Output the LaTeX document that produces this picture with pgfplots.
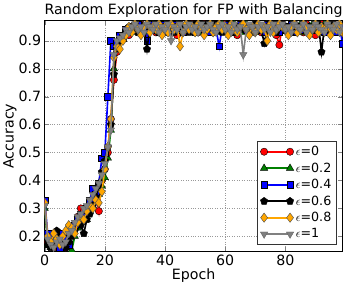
\documentclass[border=0pt]{standalone}
\usepackage{fontspec}
\setmainfont{DejaVu Sans}
\usepackage{pgfplots}
\usepackage{pgfplotstable}
\pgfplotsset{compat=1.18}
\definecolor{mgreen}{rgb}{0,0.5,0}
\definecolor{morange}{rgb}{1,0.65,0}
\definecolor{mgray}{rgb}{0.5,0.5,0.5}
\pgfplotstableread[row sep=\\]{
y\\
0.32\\0.18\\0.17\\0.16\\0.19\\0.18\\0.17\\0.16\\0.20\\0.22\\
0.24\\0.27\\0.30\\0.29\\0.28\\0.30\\0.33\\0.35\\0.29\\0.40\\
0.44\\0.50\\0.62\\0.76\\0.86\\0.90\\0.91\\0.93\\0.92\\0.94\\
0.95\\0.93\\0.96\\0.94\\0.92\\0.95\\0.96\\0.93\\0.94\\0.95\\
0.93\\0.96\\0.94\\0.95\\0.92\\0.96\\0.93\\0.94\\0.95\\0.96\\
0.94\\0.93\\0.95\\0.96\\0.94\\0.95\\0.93\\0.96\\0.94\\0.95\\
0.96\\0.94\\0.93\\0.95\\0.92\\0.96\\0.94\\0.95\\0.93\\0.94\\
0.96\\0.95\\0.93\\0.94\\0.96\\0.95\\0.94\\0.92\\0.885\\0.96\\
0.94\\0.93\\0.95\\0.96\\0.94\\0.95\\0.93\\0.96\\0.94\\0.95\\
0.92\\0.94\\0.96\\0.93\\0.95\\0.94\\0.96\\0.95\\0.93\\0.94\\
}\tR
\pgfplotstableread[row sep=\\]{
y\\
0.30\\0.17\\0.16\\0.18\\0.17\\0.16\\0.19\\0.18\\0.16\\0.15\\
0.20\\0.23\\0.25\\0.27\\0.26\\0.29\\0.31\\0.33\\0.35\\0.38\\
0.41\\0.48\\0.58\\0.80\\0.88\\0.91\\0.92\\0.93\\0.94\\0.93\\
0.95\\0.94\\0.96\\0.93\\0.95\\0.94\\0.96\\0.95\\0.93\\0.94\\
0.96\\0.94\\0.95\\0.93\\0.96\\0.94\\0.95\\0.96\\0.93\\0.95\\
0.94\\0.96\\0.93\\0.95\\0.94\\0.96\\0.95\\0.93\\0.94\\0.96\\
0.95\\0.93\\0.94\\0.96\\0.95\\0.94\\0.93\\0.96\\0.95\\0.94\\
0.93\\0.96\\0.94\\0.95\\0.96\\0.93\\0.94\\0.95\\0.96\\0.94\\
0.95\\0.93\\0.96\\0.94\\0.95\\0.96\\0.93\\0.94\\0.95\\0.96\\
0.94\\0.95\\0.93\\0.96\\0.94\\0.95\\0.96\\0.93\\0.95\\0.94\\
}\tG
\pgfplotstableread[row sep=\\]{
y\\
0.33\\0.21\\0.20\\0.18\\0.17\\0.16\\0.21\\0.19\\0.17\\0.22\\
0.24\\0.26\\0.28\\0.27\\0.30\\0.33\\0.37\\0.35\\0.39\\0.48\\
0.50\\0.70\\0.90\\0.88\\0.89\\0.92\\0.91\\0.94\\0.93\\0.95\\
0.94\\0.96\\0.93\\0.95\\0.90\\0.96\\0.94\\0.95\\0.93\\0.96\\
0.95\\0.93\\0.94\\0.96\\0.95\\0.94\\0.93\\0.95\\0.96\\0.94\\
0.93\\0.95\\0.96\\0.94\\0.95\\0.93\\0.96\\0.94\\0.88\\0.95\\
0.94\\0.96\\0.95\\0.93\\0.94\\0.96\\0.95\\0.94\\0.93\\0.95\\
0.96\\0.94\\0.95\\0.93\\0.96\\0.95\\0.94\\0.96\\0.93\\0.95\\
0.94\\0.95\\0.96\\0.93\\0.95\\0.94\\0.96\\0.95\\0.93\\0.94\\
0.96\\0.95\\0.94\\0.93\\0.95\\0.96\\0.94\\0.93\\0.95\\0.89\\
}\tB
\pgfplotstableread[row sep=\\]{
y\\
0.19\\0.17\\0.16\\0.18\\0.22\\0.19\\0.17\\0.16\\0.18\\0.20\\
0.22\\0.25\\0.24\\0.21\\0.26\\0.28\\0.31\\0.34\\0.38\\0.43\\
0.47\\0.52\\0.60\\0.78\\0.87\\0.90\\0.92\\0.93\\0.95\\0.94\\
0.96\\0.93\\0.94\\0.95\\0.87\\0.95\\0.94\\0.96\\0.93\\0.95\\
0.94\\0.96\\0.95\\0.93\\0.94\\0.96\\0.95\\0.94\\0.93\\0.95\\
0.96\\0.94\\0.95\\0.93\\0.96\\0.94\\0.95\\0.96\\0.94\\0.93\\
0.95\\0.94\\0.96\\0.93\\0.95\\0.94\\0.96\\0.95\\0.94\\0.93\\
0.96\\0.95\\0.94\\0.89\\0.95\\0.96\\0.94\\0.93\\0.95\\0.96\\
0.94\\0.95\\0.93\\0.96\\0.94\\0.95\\0.96\\0.94\\0.93\\0.95\\
0.94\\0.96\\0.86\\0.95\\0.94\\0.93\\0.96\\0.95\\0.94\\0.93\\
}\tK
\pgfplotstableread[row sep=\\]{
y\\
0.32\\0.20\\0.18\\0.21\\0.19\\0.17\\0.20\\0.22\\0.24\\0.23\\
0.21\\0.25\\0.27\\0.26\\0.29\\0.31\\0.30\\0.33\\0.32\\0.36\\
0.44\\0.52\\0.62\\0.84\\0.88\\0.87\\0.90\\0.92\\0.95\\0.93\\
0.96\\0.94\\0.92\\0.95\\0.96\\0.93\\0.95\\0.94\\0.96\\0.92\\
0.95\\0.93\\0.96\\0.94\\0.95\\0.88\\0.93\\0.96\\0.94\\0.95\\
0.93\\0.96\\0.95\\0.92\\0.94\\0.96\\0.93\\0.95\\0.96\\0.94\\
0.95\\0.92\\0.96\\0.94\\0.93\\0.95\\0.96\\0.94\\0.92\\0.95\\
0.93\\0.96\\0.94\\0.95\\0.90\\0.96\\0.93\\0.94\\0.96\\0.95\\
0.94\\0.92\\0.95\\0.96\\0.93\\0.94\\0.96\\0.95\\0.92\\0.94\\
0.96\\0.93\\0.95\\0.94\\0.96\\0.92\\0.95\\0.94\\0.96\\0.93\\
}\tO
\pgfplotstableread[row sep=\\]{
y\\
0.31\\0.19\\0.17\\0.16\\0.18\\0.19\\0.17\\0.18\\0.21\\0.22\\
0.25\\0.27\\0.28\\0.30\\0.31\\0.33\\0.35\\0.37\\0.39\\0.42\\
0.46\\0.52\\0.58\\0.85\\0.90\\0.91\\0.92\\0.94\\0.93\\0.95\\
0.96\\0.94\\0.95\\0.93\\0.96\\0.95\\0.94\\0.96\\0.93\\0.95\\
0.94\\0.96\\0.90\\0.95\\0.94\\0.96\\0.93\\0.95\\0.96\\0.94\\
0.95\\0.93\\0.96\\0.94\\0.95\\0.96\\0.94\\0.93\\0.95\\0.96\\
0.94\\0.95\\0.93\\0.96\\0.94\\0.95\\0.85\\0.94\\0.96\\0.95\\
0.93\\0.95\\0.96\\0.94\\0.95\\0.93\\0.96\\0.94\\0.95\\0.96\\
0.94\\0.95\\0.93\\0.96\\0.95\\0.94\\0.96\\0.93\\0.95\\0.94\\
0.96\\0.95\\0.94\\0.93\\0.96\\0.95\\0.94\\0.96\\0.93\\0.95\\
}\tY
\begin{document}
\begin{tikzpicture}
\begin{axis}[
  scale only axis, width=294pt, height=228pt,
  xmin=0, xmax=99, ymin=0.145, ymax=0.972,
  xtick={0,20,40,60,80}, ytick={0.2,0.3,0.4,0.5,0.6,0.7,0.8,0.9},
  yticklabel style={/pgf/number format/.cd, fixed, precision=1, fixed zerofill},
  /pgf/number format/assume math mode=true,
  tick label style={font=\fontsize{14}{16}\selectfont},
  label style={font=\fontsize{14}{16}\selectfont},
  title style={font=\fontsize{14}{16}\selectfont, yshift=-6pt},
  title={Random Exploration for FP with Balancing},
  xlabel={Epoch}, ylabel={Accuracy},
  xlabel style={yshift=4pt}, ylabel style={yshift=-5pt},
  grid=major, grid style={dotted, gray!80},
  axis line style={black},
  clip marker paths=true,
  every axis plot/.append style={line width=1.6pt},
  legend style={at={(0.98,0.03)}, anchor=south east, font=\fontsize{12.5}{14}\selectfont, draw=black!80, row sep=1.5pt, inner sep=3pt},
  legend cell align=left,
  legend image code/.code={\draw[mark repeat=2,mark phase=1,#1] plot coordinates {(0cm,0cm) (0.45cm,0cm) (0.9cm,0cm)};},
]
\path (rel axis cs:1,1) ++(9pt,0pt);
\addplot[red, mark=*, mark size=3.6pt, mark options={fill=red, draw=black, line width=0.4pt}] table[x expr=\coordindex, y=y] {\tR};
\addlegendentry{$\epsilon$=0}
\addplot[mgreen, mark=triangle*, mark size=4.2pt, mark options={fill=mgreen, draw=black, line width=0.4pt}] table[x expr=\coordindex, y=y] {\tG};
\addlegendentry{$\epsilon$=0.2}
\addplot[blue, mark=square*, mark size=3.2pt, mark options={fill=blue, draw=black, line width=0.4pt}] table[x expr=\coordindex, y=y] {\tB};
\addlegendentry{$\epsilon$=0.4}
\addplot[black, mark=pentagon*, mark size=3.8pt, mark options={fill=black, draw=black, line width=0.4pt}] table[x expr=\coordindex, y=y] {\tK};
\addlegendentry{$\epsilon$=0.6}
\addplot[morange, mark=diamond*, mark size=4.6pt, mark options={fill=morange, draw=black!70, line width=0.4pt}] table[x expr=\coordindex, y=y] {\tO};
\addlegendentry{$\epsilon$=0.8}
\addplot[mgray, mark=triangle*, mark size=4.2pt, mark options={fill=mgray, draw=black!60, line width=0.4pt, rotate=180}] table[x expr=\coordindex, y=y] {\tY};
\addlegendentry{$\epsilon$=1}
\end{axis}
\end{tikzpicture}
\end{document}
